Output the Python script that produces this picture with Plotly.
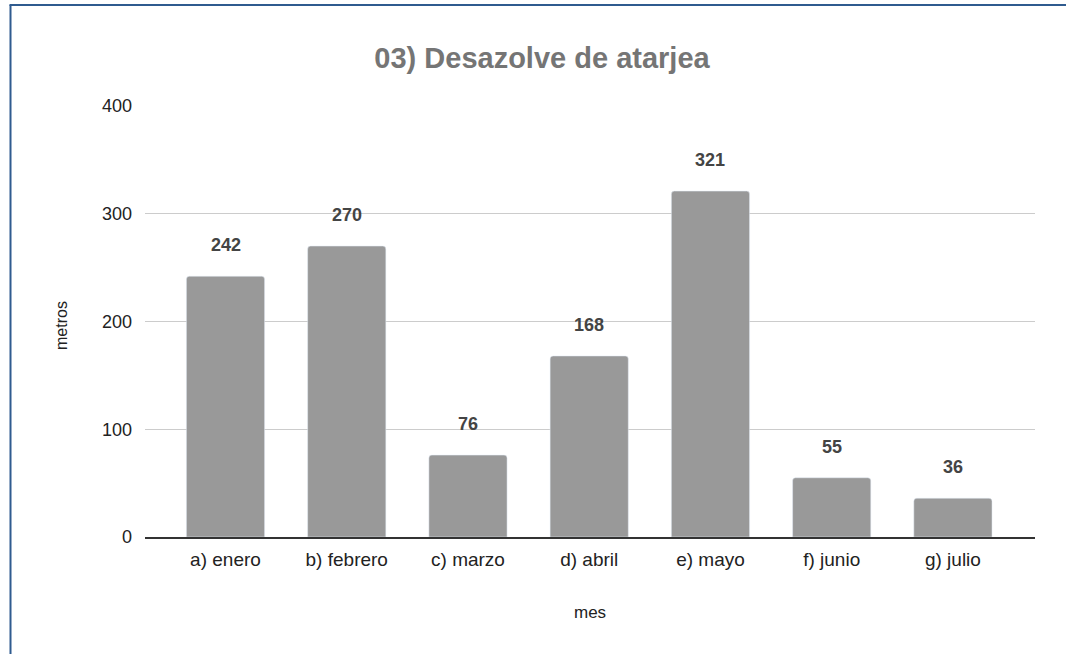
import plotly.graph_objects as go

categories = ["a) enero", "b) febrero", "c) marzo", "d) abril", "e) mayo", "f) junio", "g) julio"]
values = [242, 270, 76, 168, 321, 55, 36]
y_ticks = [0, 100, 200, 300, 400]

FONT = "Liberation Sans, Arial"
L, R, T, B = 145, 31, 106, 117
W, H = 1066, 654
pw, ph = W - L - R, H - T - B

def px_x(px):
    return (px - L) / pw

def px_y(py):
    return (H - B - py) / ph

fig = go.Figure(go.Bar(x=categories, y=values, marker_color="#999999", width=0.645,
                       marker_cornerradius=3))

for c, v in zip(categories, values):
    fig.add_annotation(x=c, y=v, text=f"<b>{v}</b>", showarrow=False, yshift=31,
                       font=dict(family=FONT, size=18, color="#444444"))

# axis titles
fig.add_annotation(xref="paper", yref="paper", x=px_x(590), y=px_y(612), text="mes", showarrow=False,
                   xanchor="center", yanchor="middle", font=dict(family=FONT, size=17, color="#222222"))
fig.add_annotation(xref="paper", yref="paper", x=px_x(61), y=px_y(326), text="metros", showarrow=False,
                   textangle=-90, xanchor="center", yanchor="middle", font=dict(family=FONT, size=16, color="#222222"))

# outer frame lines (left & top)
fig.add_shape(type="line", xref="paper", yref="paper", x0=px_x(10.5), x1=px_x(10.5), y0=px_y(5), y1=px_y(660),
              line=dict(color="#2f5b8f", width=2))
fig.add_shape(type="line", xref="paper", yref="paper", x0=px_x(9.5), x1=px_x(1070), y0=px_y(5), y1=px_y(5),
              line=dict(color="#2f5b8f", width=2))

fig.update_layout(
    width=W, height=H,
    margin=dict(l=L, r=R, t=T, b=B),
    plot_bgcolor="white", paper_bgcolor="white",
    title=dict(text="<b>03) Desazolve de atarjea</b>", x=542 / W, xanchor="center", y=1 - 58 / H, yanchor="middle",
               font=dict(family=FONT, size=29, color="#757575")),
    font=dict(family=FONT, size=18, color="#222222"),
    showlegend=False,
)
fig.update_yaxes(range=[0, 400], tickvals=y_ticks, showgrid=True, gridcolor="#cccccc", gridwidth=1,
                 zeroline=False, ticks="", ticklabelstandoff=12, tickfont=dict(size=18, color="#222222"))
fig.update_xaxes(showline=True, linecolor="#333333", linewidth=1.5, ticks="", ticklabelstandoff=4,
                 range=[-0.664, 6.677], tickfont=dict(size=19, color="#222222"))

fig.write_html("out.html", config={"displayModeBar": False},
               post_script="document.body.style.margin='0';document.body.style.overflow='hidden';")
